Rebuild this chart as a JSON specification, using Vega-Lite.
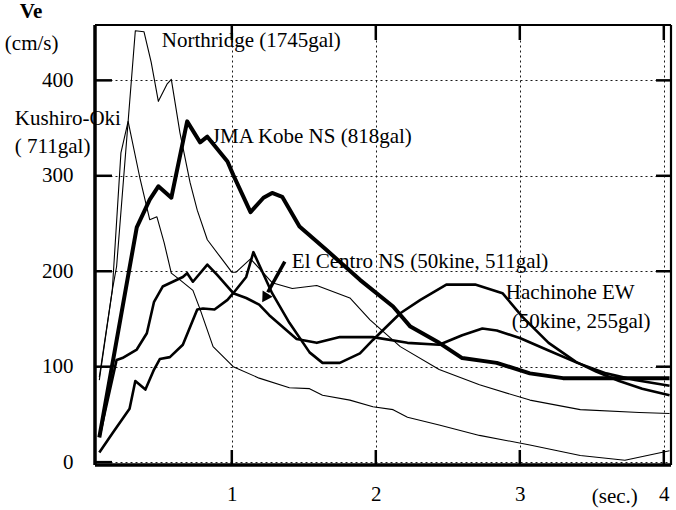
{
  "$schema": "https://vega.github.io/schema/vega-lite/v6.json",
  "width": 576,
  "height": 440,
  "autosize": {"type": "none"},
  "padding": {"left": 95, "top": 25, "right": 5, "bottom": 45},
  "background": "white",
  "config": {
    "view": {"stroke": null},
    "axis": {"labelFont": "Liberation Serif", "labelFontSize": 21, "labelColor": "black",
             "domain": false, "ticks": false,
             "gridColor": "black", "gridDash": [2, 3], "gridWidth": 1, "gridOpacity": 0.9,
             "title": null}
  },
  "datasets": {
    "curves": [
      {"s": "Northridge", "t": 0.08, "v": 89}, {"s": "Northridge", "t": 0.17, "v": 180}, {"s": "Northridge", "t": 0.2, "v": 205},
      {"s": "Northridge", "t": 0.33, "v": 452}, {"s": "Northridge", "t": 0.39, "v": 451}, {"s": "Northridge", "t": 0.44, "v": 419},
      {"s": "Northridge", "t": 0.49, "v": 378}, {"s": "Northridge", "t": 0.55, "v": 396}, {"s": "Northridge", "t": 0.58, "v": 401},
      {"s": "Northridge", "t": 0.64, "v": 345}, {"s": "Northridge", "t": 0.71, "v": 293}, {"s": "Northridge", "t": 0.76, "v": 264},
      {"s": "Northridge", "t": 0.83, "v": 233}, {"s": "Northridge", "t": 0.92, "v": 215}, {"s": "Northridge", "t": 1.0, "v": 199},
      {"s": "Northridge", "t": 1.03, "v": 199}, {"s": "Northridge", "t": 1.13, "v": 213}, {"s": "Northridge", "t": 1.28, "v": 188},
      {"s": "Northridge", "t": 1.42, "v": 182}, {"s": "Northridge", "t": 1.59, "v": 185}, {"s": "Northridge", "t": 1.82, "v": 172},
      {"s": "Northridge", "t": 1.96, "v": 149}, {"s": "Northridge", "t": 2.17, "v": 121}, {"s": "Northridge", "t": 2.44, "v": 97},
      {"s": "Northridge", "t": 2.72, "v": 81}, {"s": "Northridge", "t": 3.07, "v": 65}, {"s": "Northridge", "t": 3.42, "v": 55},
      {"s": "Northridge", "t": 3.83, "v": 52}, {"s": "Northridge", "t": 4.04, "v": 51},

      {"s": "Kushiro-Oki", "t": 0.08, "v": 86}, {"s": "Kushiro-Oki", "t": 0.17, "v": 180}, {"s": "Kushiro-Oki", "t": 0.23, "v": 324},
      {"s": "Kushiro-Oki", "t": 0.28, "v": 357}, {"s": "Kushiro-Oki", "t": 0.36, "v": 299}, {"s": "Kushiro-Oki", "t": 0.43, "v": 254},
      {"s": "Kushiro-Oki", "t": 0.48, "v": 257}, {"s": "Kushiro-Oki", "t": 0.53, "v": 230}, {"s": "Kushiro-Oki", "t": 0.58, "v": 198},
      {"s": "Kushiro-Oki", "t": 0.64, "v": 191}, {"s": "Kushiro-Oki", "t": 0.73, "v": 180}, {"s": "Kushiro-Oki", "t": 0.78, "v": 160},
      {"s": "Kushiro-Oki", "t": 0.87, "v": 121}, {"s": "Kushiro-Oki", "t": 1.01, "v": 100}, {"s": "Kushiro-Oki", "t": 1.19, "v": 88},
      {"s": "Kushiro-Oki", "t": 1.4, "v": 78}, {"s": "Kushiro-Oki", "t": 1.54, "v": 77}, {"s": "Kushiro-Oki", "t": 1.63, "v": 70},
      {"s": "Kushiro-Oki", "t": 1.82, "v": 65}, {"s": "Kushiro-Oki", "t": 1.98, "v": 58}, {"s": "Kushiro-Oki", "t": 2.12, "v": 55},
      {"s": "Kushiro-Oki", "t": 2.22, "v": 47}, {"s": "Kushiro-Oki", "t": 2.44, "v": 39}, {"s": "Kushiro-Oki", "t": 2.72, "v": 28},
      {"s": "Kushiro-Oki", "t": 3.07, "v": 18}, {"s": "Kushiro-Oki", "t": 3.42, "v": 7}, {"s": "Kushiro-Oki", "t": 3.73, "v": 2},
      {"s": "Kushiro-Oki", "t": 4.04, "v": 12},

      {"s": "JMA Kobe NS", "t": 0.08, "v": 26}, {"s": "JMA Kobe NS", "t": 0.34, "v": 246}, {"s": "JMA Kobe NS", "t": 0.43, "v": 275},
      {"s": "JMA Kobe NS", "t": 0.49, "v": 289}, {"s": "JMA Kobe NS", "t": 0.58, "v": 277}, {"s": "JMA Kobe NS", "t": 0.69, "v": 357},
      {"s": "JMA Kobe NS", "t": 0.78, "v": 335}, {"s": "JMA Kobe NS", "t": 0.83, "v": 341}, {"s": "JMA Kobe NS", "t": 0.97, "v": 315},
      {"s": "JMA Kobe NS", "t": 1.01, "v": 301}, {"s": "JMA Kobe NS", "t": 1.13, "v": 262}, {"s": "JMA Kobe NS", "t": 1.22, "v": 277},
      {"s": "JMA Kobe NS", "t": 1.28, "v": 282}, {"s": "JMA Kobe NS", "t": 1.35, "v": 278}, {"s": "JMA Kobe NS", "t": 1.47, "v": 247},
      {"s": "JMA Kobe NS", "t": 1.66, "v": 222}, {"s": "JMA Kobe NS", "t": 1.89, "v": 191}, {"s": "JMA Kobe NS", "t": 2.12, "v": 163},
      {"s": "JMA Kobe NS", "t": 2.24, "v": 142}, {"s": "JMA Kobe NS", "t": 2.44, "v": 125}, {"s": "JMA Kobe NS", "t": 2.6, "v": 109},
      {"s": "JMA Kobe NS", "t": 2.84, "v": 104}, {"s": "JMA Kobe NS", "t": 3.07, "v": 93}, {"s": "JMA Kobe NS", "t": 3.3, "v": 88},
      {"s": "JMA Kobe NS", "t": 3.53, "v": 88}, {"s": "JMA Kobe NS", "t": 4.04, "v": 88},

      {"s": "Hachinohe EW", "t": 0.08, "v": 10}, {"s": "Hachinohe EW", "t": 0.17, "v": 30}, {"s": "Hachinohe EW", "t": 0.29, "v": 56},
      {"s": "Hachinohe EW", "t": 0.33, "v": 85}, {"s": "Hachinohe EW", "t": 0.4, "v": 76}, {"s": "Hachinohe EW", "t": 0.46, "v": 97},
      {"s": "Hachinohe EW", "t": 0.5, "v": 108}, {"s": "Hachinohe EW", "t": 0.57, "v": 110}, {"s": "Hachinohe EW", "t": 0.66, "v": 123},
      {"s": "Hachinohe EW", "t": 0.76, "v": 160}, {"s": "Hachinohe EW", "t": 0.8, "v": 161}, {"s": "Hachinohe EW", "t": 0.88, "v": 160},
      {"s": "Hachinohe EW", "t": 0.97, "v": 170}, {"s": "Hachinohe EW", "t": 1.01, "v": 177}, {"s": "Hachinohe EW", "t": 1.1, "v": 194},
      {"s": "Hachinohe EW", "t": 1.15, "v": 220}, {"s": "Hachinohe EW", "t": 1.28, "v": 177}, {"s": "Hachinohe EW", "t": 1.4, "v": 146},
      {"s": "Hachinohe EW", "t": 1.54, "v": 115}, {"s": "Hachinohe EW", "t": 1.63, "v": 104}, {"s": "Hachinohe EW", "t": 1.75, "v": 104},
      {"s": "Hachinohe EW", "t": 1.89, "v": 114}, {"s": "Hachinohe EW", "t": 1.98, "v": 128}, {"s": "Hachinohe EW", "t": 2.17, "v": 156},
      {"s": "Hachinohe EW", "t": 2.31, "v": 170}, {"s": "Hachinohe EW", "t": 2.49, "v": 186}, {"s": "Hachinohe EW", "t": 2.69, "v": 186},
      {"s": "Hachinohe EW", "t": 2.88, "v": 177}, {"s": "Hachinohe EW", "t": 3.02, "v": 152}, {"s": "Hachinohe EW", "t": 3.2, "v": 125},
      {"s": "Hachinohe EW", "t": 3.39, "v": 105}, {"s": "Hachinohe EW", "t": 3.53, "v": 95}, {"s": "Hachinohe EW", "t": 3.69, "v": 85},
      {"s": "Hachinohe EW", "t": 3.85, "v": 77}, {"s": "Hachinohe EW", "t": 4.04, "v": 70},

      {"s": "El Centro NS", "t": 0.08, "v": 26}, {"s": "El Centro NS", "t": 0.2, "v": 107}, {"s": "El Centro NS", "t": 0.24, "v": 109},
      {"s": "El Centro NS", "t": 0.34, "v": 118}, {"s": "El Centro NS", "t": 0.41, "v": 135}, {"s": "El Centro NS", "t": 0.46, "v": 168},
      {"s": "El Centro NS", "t": 0.52, "v": 184}, {"s": "El Centro NS", "t": 0.59, "v": 189}, {"s": "El Centro NS", "t": 0.66, "v": 194},
      {"s": "El Centro NS", "t": 0.69, "v": 198}, {"s": "El Centro NS", "t": 0.73, "v": 189}, {"s": "El Centro NS", "t": 0.83, "v": 207},
      {"s": "El Centro NS", "t": 0.9, "v": 196}, {"s": "El Centro NS", "t": 1.01, "v": 177}, {"s": "El Centro NS", "t": 1.1, "v": 172},
      {"s": "El Centro NS", "t": 1.19, "v": 165}, {"s": "El Centro NS", "t": 1.26, "v": 154}, {"s": "El Centro NS", "t": 1.45, "v": 129},
      {"s": "El Centro NS", "t": 1.59, "v": 125}, {"s": "El Centro NS", "t": 1.75, "v": 131}, {"s": "El Centro NS", "t": 1.98, "v": 131},
      {"s": "El Centro NS", "t": 2.22, "v": 125}, {"s": "El Centro NS", "t": 2.44, "v": 123}, {"s": "El Centro NS", "t": 2.6, "v": 133},
      {"s": "El Centro NS", "t": 2.74, "v": 140}, {"s": "El Centro NS", "t": 2.84, "v": 138}, {"s": "El Centro NS", "t": 3.0, "v": 130},
      {"s": "El Centro NS", "t": 3.2, "v": 117}, {"s": "El Centro NS", "t": 3.4, "v": 104}, {"s": "El Centro NS", "t": 3.6, "v": 93},
      {"s": "El Centro NS", "t": 3.8, "v": 86}, {"s": "El Centro NS", "t": 4.04, "v": 80}
    ],
    "notes": [
      {"label": "Northridge (1745gal)", "x": 0.514, "y": 441},
      {"label": "JMA Kobe NS (818gal)", "x": 0.861, "y": 341},
      {"label": "El Centro NS (50kine, 511gal)", "x": 1.417, "y": 210},
      {"label": "Hachinohe EW", "x": 2.903, "y": 177},
      {"label": "(50kine, 255gal)", "x": 2.944, "y": 147},
      {"label": "Kushiro-Oki", "x": -0.507, "y": 359},
      {"label": "( 711gal)", "x": -0.507, "y": 330.5},
      {"label": "(cm/s)", "x": -0.576, "y": 437.6},
      {"label": "(sec.)", "x": 3.5, "y": -36.7}
    ],
    "yticks": [{"v": 0}, {"v": 100}, {"v": 200}, {"v": 300}, {"v": 400}],
    "xticks": [{"t": 1}, {"t": 2}, {"t": 3}, {"t": 4}]
  },
  "resolve": {"axis": {"x": "independent", "y": "independent"}},
  "layer": [
    {
      "data": {"name": "curves"},
      "transform": [{"filter": {"field": "s", "oneOf": ["Northridge", "Kushiro-Oki"]}}],
      "mark": {"type": "line", "color": "black", "strokeWidth": 1.1, "strokeJoin": "round"},
      "encoding": {
        "x": {"field": "t", "type": "quantitative",
              "scale": {"domain": [0.05, 4.05], "nice": false, "zero": false},
              "axis": {"orient": "bottom", "values": [1, 2, 3, 4], "format": "d", "grid": true, "labelPadding": 18}},
        "y": {"field": "v", "type": "quantitative",
              "scale": {"domain": [-3, 458], "nice": false, "zero": false},
              "axis": {"orient": "left", "values": [0, 100, 200, 300, 400], "format": "d", "grid": true, "labelPadding": 22}},
        "detail": {"field": "s"}
      }
    },
    {
      "data": {"name": "curves"},
      "transform": [{"filter": {"field": "s", "oneOf": ["El Centro NS", "Hachinohe EW"]}}],
      "mark": {"type": "line", "color": "black", "strokeWidth": 2.6, "strokeJoin": "round"},
      "encoding": {
        "x": {"field": "t", "type": "quantitative", "scale": {"domain": [0.05, 4.05], "nice": false, "zero": false}, "axis": null},
        "y": {"field": "v", "type": "quantitative", "scale": {"domain": [-3, 458], "nice": false, "zero": false}, "axis": null},
        "detail": {"field": "s"}
      }
    },
    {
      "data": {"name": "curves"},
      "transform": [{"filter": {"field": "s", "oneOf": ["JMA Kobe NS"]}}],
      "mark": {"type": "line", "color": "black", "strokeWidth": 4, "strokeJoin": "round"},
      "encoding": {
        "x": {"field": "t", "type": "quantitative", "scale": {"domain": [0.05, 4.05], "nice": false, "zero": false}, "axis": null},
        "y": {"field": "v", "type": "quantitative", "scale": {"domain": [-3, 458], "nice": false, "zero": false}, "axis": null}
      }
    },
    {
      "data": {"values": [{}]},
      "mark": {"type": "rule", "color": "black", "strokeWidth": 3.5},
      "encoding": {
        "x": {"datum": 0.05, "type": "quantitative", "scale": {"domain": [0.05, 4.05], "nice": false, "zero": false}, "axis": null},
        "y": {"datum": -3, "type": "quantitative", "scale": {"domain": [-3, 458], "nice": false, "zero": false}, "axis": null},
        "y2": {"datum": 458}
      }
    },
    {
      "data": {"values": [{}]},
      "mark": {"type": "rule", "color": "black", "strokeWidth": 3.5},
      "encoding": {
        "x": {"datum": 0.05, "type": "quantitative", "scale": {"domain": [0.05, 4.05], "nice": false, "zero": false}, "axis": null},
        "x2": {"datum": 4.05},
        "y": {"datum": -3, "type": "quantitative", "scale": {"domain": [-3, 458], "nice": false, "zero": false}, "axis": null}
      }
    },
    {
      "data": {"values": [{}]},
      "mark": {"type": "rule", "color": "black", "strokeWidth": 2.2},
      "encoding": {
        "x": {"datum": 0.05, "type": "quantitative", "scale": {"domain": [0.05, 4.05], "nice": false, "zero": false}, "axis": null},
        "x2": {"datum": 4.05},
        "y": {"datum": 458, "type": "quantitative", "scale": {"domain": [-3, 458], "nice": false, "zero": false}, "axis": null}
      }
    },
    {
      "data": {"values": [{}]},
      "mark": {"type": "rule", "color": "black", "strokeWidth": 2.2},
      "encoding": {
        "x": {"datum": 4.05, "type": "quantitative", "scale": {"domain": [0.05, 4.05], "nice": false, "zero": false}, "axis": null},
        "y": {"datum": -3, "type": "quantitative", "scale": {"domain": [-3, 458], "nice": false, "zero": false}, "axis": null},
        "y2": {"datum": 458}
      }
    },
    {
      "data": {"name": "yticks"},
      "mark": {"type": "rule", "color": "black", "strokeWidth": 2.5},
      "encoding": {
        "y": {"field": "v", "type": "quantitative", "scale": {"domain": [-3, 458], "nice": false, "zero": false}, "axis": null},
        "x": {"datum": 0.05, "type": "quantitative", "scale": {"domain": [0.05, 4.05], "nice": false, "zero": false}, "axis": null},
        "x2": {"datum": 0.168}
      }
    },
    {
      "data": {"name": "yticks"},
      "transform": [{"filter": "datum.v > 0"}],
      "mark": {"type": "rule", "color": "black", "strokeWidth": 2.5},
      "encoding": {
        "y": {"field": "v", "type": "quantitative", "scale": {"domain": [-3, 458], "nice": false, "zero": false}, "axis": null},
        "x": {"datum": 3.946, "type": "quantitative", "scale": {"domain": [0.05, 4.05], "nice": false, "zero": false}, "axis": null},
        "x2": {"datum": 4.05}
      }
    },
    {
      "data": {"name": "xticks"},
      "mark": {"type": "rule", "color": "black", "strokeWidth": 2.5},
      "encoding": {
        "x": {"field": "t", "type": "quantitative", "scale": {"domain": [0.05, 4.05], "nice": false, "zero": false}, "axis": null},
        "y": {"datum": -3, "type": "quantitative", "scale": {"domain": [-3, 458], "nice": false, "zero": false}, "axis": null},
        "y2": {"datum": 12.7}
      }
    },
    {
      "data": {"name": "xticks"},
      "mark": {"type": "rule", "color": "black", "strokeWidth": 2.5},
      "encoding": {
        "x": {"field": "t", "type": "quantitative", "scale": {"domain": [0.05, 4.05], "nice": false, "zero": false}, "axis": null},
        "y": {"datum": 442.3, "type": "quantitative", "scale": {"domain": [-3, 458], "nice": false, "zero": false}, "axis": null},
        "y2": {"datum": 458}
      }
    },
    {
      "data": {"name": "notes"},
      "mark": {"type": "text", "align": "left", "baseline": "middle", "font": "Liberation Serif", "fontSize": 21, "color": "black"},
      "encoding": {
        "x": {"field": "x", "type": "quantitative", "scale": {"domain": [0.05, 4.05], "nice": false, "zero": false}, "axis": null},
        "y": {"field": "y", "type": "quantitative", "scale": {"domain": [-3, 458], "nice": false, "zero": false}, "axis": null},
        "text": {"field": "label"}
      }
    },
    {
      "data": {"values": [{"label": "Ve", "x": -0.472, "y": 472}]},
      "mark": {"type": "text", "align": "left", "baseline": "middle", "font": "Liberation Serif", "fontSize": 21, "fontWeight": "bold", "color": "black"},
      "encoding": {
        "x": {"field": "x", "type": "quantitative", "scale": {"domain": [0.05, 4.05], "nice": false, "zero": false}, "axis": null},
        "y": {"field": "y", "type": "quantitative", "scale": {"domain": [-3, 458], "nice": false, "zero": false}, "axis": null},
        "text": {"field": "label"}
      }
    },
    {
      "data": {"values": [{"x": 1.368, "y": 210, "x2": 1.25, "y2": 178}]},
      "mark": {"type": "rule", "color": "black", "strokeWidth": 3.5},
      "encoding": {
        "x": {"field": "x", "type": "quantitative", "scale": {"domain": [0.05, 4.05], "nice": false, "zero": false}, "axis": null},
        "y": {"field": "y", "type": "quantitative", "scale": {"domain": [-3, 458], "nice": false, "zero": false}, "axis": null},
        "x2": {"field": "x2"},
        "y2": {"field": "y2"}
      }
    },
    {
      "data": {"values": [{"x": 1.23, "y": 172}]},
      "mark": {"type": "point", "shape": "triangle-up", "filled": true, "color": "black", "opacity": 1, "size": 140, "angle": 212},
      "encoding": {
        "x": {"field": "x", "type": "quantitative", "scale": {"domain": [0.05, 4.05], "nice": false, "zero": false}, "axis": null},
        "y": {"field": "y", "type": "quantitative", "scale": {"domain": [-3, 458], "nice": false, "zero": false}, "axis": null}
      }
    }
  ]
}
